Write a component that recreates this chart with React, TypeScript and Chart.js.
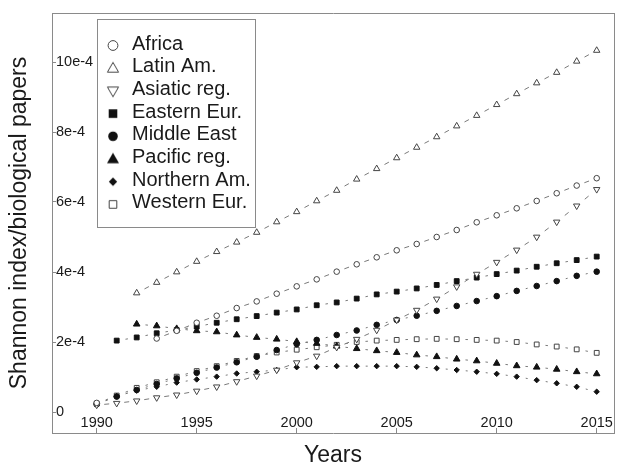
import React, { useEffect, useRef } from "react";
import { Chart, registerables } from "chart.js";

Chart.register(...registerables);

// ---------- data (values in units of 1e-4; null = not observed) ----------
const years = [
  1990, 1991, 1992, 1993, 1994, 1995, 1996, 1997, 1998, 1999, 2000, 2001, 2002,
  2003, 2004, 2005, 2006, 2007, 2008, 2009, 2010, 2011, 2012, 2013, 2014, 2015,
];
const africa = [
  0.26, null, null, 2.1, 2.32, 2.55, 2.75, 2.97, 3.16, 3.38, 3.59, 3.79, 4.01,
  4.22, 4.42, 4.62, 4.8, 5.0, 5.2, 5.42, 5.62, 5.82, 6.03, 6.25, 6.47, 6.68,
];
const latinAm = [
  null, null, 3.4, 3.7, 4.0, 4.3, 4.58, 4.85, 5.13, 5.43, 5.72, 6.03, 6.33,
  6.65, 6.95, 7.26, 7.56, 7.86, 8.17, 8.47, 8.78, 9.09, 9.4, 9.7, 10.02, 10.33,
];
const asiaticReg = [
  0.2, 0.25, 0.32, 0.41, 0.49, 0.6, 0.72, 0.87, 1.03, 1.2, 1.41, 1.6, 1.85,
  2.08, 2.34, 2.63, 2.91, 3.23, 3.58, 3.94, 4.28, 4.63, 5.0, 5.43, 5.89, 6.36,
];
const easternEur = [
  null, 2.04, 2.13, 2.25, 2.34, 2.44, 2.55, 2.65, 2.74, 2.84, 2.93, 3.05, 3.13,
  3.24, 3.36, 3.44, 3.53, 3.63, 3.74, 3.84, 3.94, 4.04, 4.15, 4.25, 4.34, 4.44,
];
const middleEast = [
  0.22, 0.44, 0.63, 0.8, 0.96, 1.12, 1.27, 1.42, 1.58, 1.77, 1.94, 2.06, 2.2,
  2.33, 2.49, 2.63, 2.75, 2.89, 3.03, 3.17, 3.31, 3.46, 3.6, 3.74, 3.89, 4.01,
];
const pacificReg = [
  null, null, 2.51, 2.46, 2.38, 2.32, 2.29, 2.2, 2.13, 2.08, 2.01, 1.96, 1.88,
  1.81, 1.75, 1.7, 1.63, 1.58, 1.51, 1.46, 1.39, 1.32, 1.28, 1.22, 1.15, 1.09,
];
const northernAm = [
  0.23, 0.45, 0.61, 0.72, 0.84, 0.93, 1.01, 1.1, 1.15, 1.2, 1.28, 1.29, 1.31,
  1.31, 1.31, 1.31, 1.29, 1.25, 1.2, 1.15, 1.09, 1.01, 0.91, 0.82, 0.72, 0.58,
];
const westernEur = [
  0.24, 0.47, 0.69, 0.85, 1.01, 1.17, 1.31, 1.46, 1.6, 1.7, 1.78, 1.85, 1.92,
  2.0, 2.04, 2.06, 2.08, 2.09, 2.08, 2.06, 2.04, 2.0, 1.93, 1.87, 1.79, 1.69,
];

const seriesLabels = [
  "Africa",
  "Latin Am.",
  "Asiatic reg.",
  "Eastern Eur.",
  "Middle East",
  "Pacific reg.",
  "Northern Am.",
  "Western Eur.",
];
const seriesValues = [
  africa, latinAm, asiaticReg, easternEur, middleEast, pacificReg, northernAm, westernEur,
];

const xTickValues = [1990, 1995, 2000, 2005, 2010, 2015];
const yTickValues = [0, 2, 4, 6, 8, 10]; // units of 1e-4
const UNIT = 1e-4;

// ---------- styles ----------
const FONT = "'Liberation Sans', Arial, Helvetica, sans-serif";
const OPEN = "#444444";
const FILLED = "#111111";
const LINE = "#7a7a7a";
const FRAME = "#8a8a8a";

type Kind = "circle" | "triUp" | "triDown" | "rect" | "diamond";
const seriesStyle: { kind: Kind; filled: boolean; r: number; dash: number }[] = [
  { kind: "circle", filled: false, r: 2.8, dash: 5 },
  { kind: "triUp", filled: false, r: 3.7, dash: 5 },
  { kind: "triDown", filled: false, r: 3.7, dash: 5 },
  { kind: "rect", filled: true, r: 3.4, dash: 2.5 },
  { kind: "circle", filled: true, r: 2.8, dash: 2 },
  { kind: "triUp", filled: true, r: 3.8, dash: 2.5 },
  { kind: "diamond", filled: true, r: 2.7, dash: 2 },
  { kind: "rect", filled: false, r: 3.4, dash: 2.5 },
];

function legendIcon(kind: Kind, filled: boolean): HTMLCanvasElement {
  const cv = document.createElement("canvas");
  cv.width = 18;
  cv.height = 20;
  const c = cv.getContext("2d")!;
  const cx = 9;
  const cy = 11.5;
  c.beginPath();
  if (kind === "circle") {
    c.arc(cx, cy, filled ? 4.8 : 4.9, 0, Math.PI * 2);
  } else if (kind === "triUp") {
    const w = filled ? 12 : 11.2;
    const h = w * 0.87;
    c.moveTo(cx, cy - h * 0.6);
    c.lineTo(cx + w / 2, cy + h * 0.4);
    c.lineTo(cx - w / 2, cy + h * 0.4);
    c.closePath();
  } else if (kind === "triDown") {
    const w = 11.2;
    const h = w * 0.87;
    c.moveTo(cx, cy + h * 0.6);
    c.lineTo(cx + w / 2, cy - h * 0.4);
    c.lineTo(cx - w / 2, cy - h * 0.4);
    c.closePath();
  } else if (kind === "rect") {
    const s = filled ? 8.6 : 7.6;
    c.rect(cx - s / 2, cy - s / 2, s, s);
  } else {
    const s = 4.2;
    c.moveTo(cx, cy - s);
    c.lineTo(cx + s, cy);
    c.lineTo(cx, cy + s);
    c.lineTo(cx - s, cy);
    c.closePath();
  }
  if (filled) {
    c.fillStyle = FILLED;
    c.fill();
  } else {
    c.fillStyle = "#fff";
    c.fill();
    c.strokeStyle = OPEN;
    c.lineWidth = 1;
    c.stroke();
  }
  return cv;
}

const pointStyleOf = (k: Kind) =>
  k === "triUp" || k === "triDown" ? "triangle" : k === "diamond" ? "rectRot" : k;

// a single short dash centred between each pair of markers
function centredDash(d: number) {
  return {
    borderDash: (ctx: any) => [d, 1000 + ctx.p0DataIndex],
    borderDashOffset: (ctx: any) => {
      const len = Math.hypot(ctx.p1.x - ctx.p0.x, ctx.p1.y - ctx.p0.y);
      const off = 1000 + ctx.p0DataIndex;
      return d + off - (len - d) / 2;
    },
  };
}

// legend placement (inside the plot frame) and its box
const LEGEND_X = 104;
const LEGEND_Y = 34;
const LEGEND_BOX = { x: 97.5, y: 19.5, w: 158, h: 208 };

const legendPlacement = {
  id: "legendPlacement",
  beforeDraw(chart: any) {
    const lg = chart.legend;
    if (!lg) return;
    const pad = lg.options.labels.padding;
    lg.left = LEGEND_X - pad;
    lg.top = LEGEND_Y - pad;
    lg.right = lg.left + lg.width;
    lg.bottom = lg.top + 400;
  },
  afterDraw(chart: any) {
    const c = chart.ctx;
    c.save();
    c.strokeStyle = FRAME;
    c.lineWidth = 1;
    c.strokeRect(LEGEND_BOX.x, LEGEND_BOX.y, LEGEND_BOX.w, LEGEND_BOX.h);
    c.restore();
  },
};

export default function App() {
  const ref = useRef<HTMLCanvasElement | null>(null);

  useEffect(() => {
    if (!ref.current) return;
    Chart.defaults.font.family = FONT;
    const icons = seriesStyle.map((s) => legendIcon(s.kind, s.filled));

    const datasets = seriesValues.map((vals, i) => {
      const st = seriesStyle[i];
      const pts = years.map((yr, j) => ({
        x: yr,
        y: vals[j] == null ? null : (vals[j] as number) * UNIT,
      }));
      return {
        label: seriesLabels[i],
        data: pts,
        showLine: true,
        spanGaps: false,
        borderColor: LINE,
        borderWidth: 1,
        borderCapStyle: "butt",
        fill: false,
        tension: 0,
        segment: centredDash(st.dash),
        pointStyle: pointStyleOf(st.kind),
        pointRotation: st.kind === "triDown" ? 180 : 0,
        pointRadius: st.r,
        pointHoverRadius: st.r,
        pointBorderWidth: 1,
        pointBackgroundColor: st.filled ? FILLED : "#ffffff",
        pointBorderColor: st.filled ? FILLED : OPEN,
      };
    });

    const chart = new Chart(ref.current, {
      type: "line",
      data: { datasets } as any,
      plugins: [legendPlacement],
      options: {
        animation: false,
        responsive: false,
        devicePixelRatio: 1,
        events: [],
        layout: { padding: { left: 0, top: 13, right: 5, bottom: 0 }, autoPadding: false },
        plugins: {
          tooltip: { enabled: false },
          legend: {
            display: true,
            position: "chartArea",
            align: "start",
            labels: {
              usePointStyle: true,
              boxWidth: 18,
              boxHeight: 20,
              padding: 2.7,
              color: "#1a1a1a",
              font: { size: 20, family: FONT },
              generateLabels: () =>
                seriesLabels.map((t, i) => ({
                  text: t,
                  pointStyle: icons[i],
                  datasetIndex: i,
                  hidden: false,
                  lineWidth: 0,
                  fillStyle: "transparent",
                  strokeStyle: "transparent",
                  fontColor: "#1a1a1a",
                })),
            },
          },
        },
        scales: {
          x: {
            type: "linear",
            position: "bottom",
            min: 1987.765,
            max: 2015.865,
            afterBuildTicks: (s: any) => {
              s.ticks = xTickValues.map((v) => ({ value: v }));
            },
            afterFit: (s: any) => {
              s.height = 36;
            },
            grid: {
              display: true,
              drawOnChartArea: false,
              drawTicks: true,
              tickLength: -5,
              color: FRAME,
            },
            border: { display: true, color: FRAME, width: 1 },
            ticks: {
              mirror: true,
              padding: 1.5,
              color: "#1a1a1a",
              font: { size: 14.5, family: FONT },
              maxRotation: 0,
              autoSkip: false,
              callback: (v: any) => String(v),
            },
            title: {
              display: true,
              text: "Years",
              color: "#1a1a1a",
              font: { size: 23, family: FONT },
              padding: { top: 0, bottom: 0 },
            },
          },
          x2: {
            type: "linear",
            position: "top",
            min: 1987.765,
            max: 2015.865,
            afterFit: (s: any) => {
              s.height = 0;
            },
            grid: { display: false },
            ticks: { display: false },
            border: { display: true, color: FRAME, width: 1 },
          },
          y: {
            type: "linear",
            position: "left",
            min: -0.6 * UNIT,
            max: 11.4 * UNIT,
            afterBuildTicks: (s: any) => {
              s.ticks = yTickValues.map((v) => ({ value: v * UNIT }));
            },
            afterFit: (s: any) => {
              s.width = 52;
            },
            grid: {
              display: true,
              drawOnChartArea: false,
              drawTicks: true,
              tickLength: -4,
              color: FRAME,
            },
            border: { display: true, color: FRAME, width: 1 },
            ticks: {
              mirror: true,
              padding: 4,
              color: "#1a1a1a",
              font: { size: 14.5, family: FONT },
              autoSkip: false,
              callback: (v: any) => {
                const n = Math.round(Number(v) / UNIT);
                return n === 0 ? "0" : `${n}e-4`;
              },
            },
            title: {
              display: true,
              text: "Shannon index/biological papers",
              color: "#1a1a1a",
              font: { size: 23, family: FONT },
              padding: { top: 6, bottom: 0 },
            },
          },
          y2: {
            type: "linear",
            position: "right",
            min: -0.6 * UNIT,
            max: 11.4 * UNIT,
            afterFit: (s: any) => {
              s.width = 0;
            },
            grid: { display: false },
            ticks: { display: false },
            border: { display: true, color: FRAME, width: 1 },
          },
        },
      } as any,
    });

    return () => chart.destroy();
  }, []);

  return (
    <div
      style={{
        position: "absolute",
        left: 0,
        top: 0,
        width: 619,
        height: 469,
        background: "#ffffff",
      }}
    >
      <canvas ref={ref} width={619} height={469} style={{ display: "block" }} />
    </div>
  );
}
